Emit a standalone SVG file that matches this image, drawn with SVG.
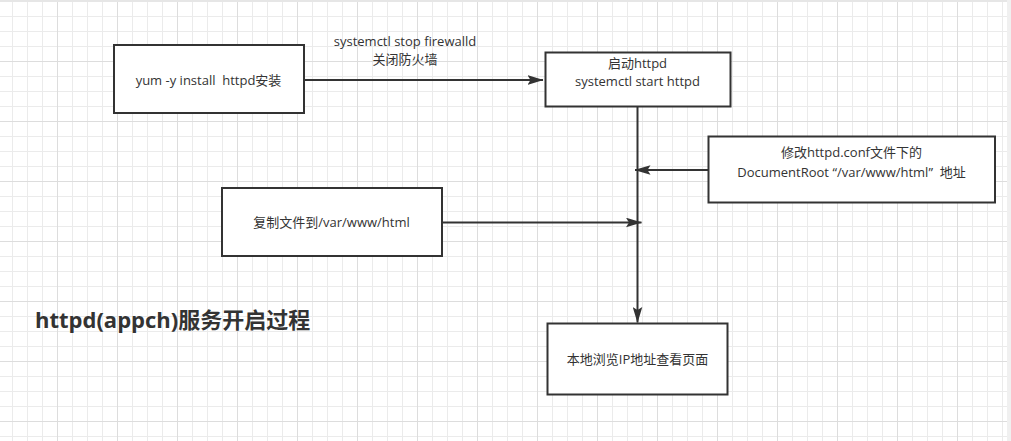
<svg xmlns="http://www.w3.org/2000/svg" width="1011" height="441" viewBox="0 0 1011 441">
<style>
.box{fill:#ffffff;stroke:#333333;stroke-width:2}
.edge{fill:none;stroke:#333333;stroke-width:2}
text{font-family:"Open Sans","Noto Sans CJK SC",sans-serif;font-size:13px;fill:#333333;text-anchor:middle;white-space:pre}
.title{font-family:"Open Sans","Noto Sans CJK SC",sans-serif;font-size:22px;font-weight:bold;text-anchor:start}
</style>
<defs>
<pattern id="grid" x="-3" y="1" width="60" height="60" patternUnits="userSpaceOnUse">
<path d="M15.5,0V60M30.5,0V60M45.5,0V60M0,15.5H60M0,30.5H60M0,45.5H60" stroke="#ebebeb" stroke-width="1" fill="none"/>
<path d="M0.5,0V60M0,0.5H60" stroke="#dddddd" stroke-width="1" fill="none"/>
</pattern>
<marker id="arr" viewBox="0 0 16 10" refX="15.5" refY="5" markerWidth="16" markerHeight="10" markerUnits="userSpaceOnUse" orient="auto">
<path d="M0,0.2L16,5L0,9.8L3,5Z" fill="#333333"/>
</marker>
</defs>
<rect width="1011" height="441" fill="#ffffff"/>
<rect width="1011" height="441" fill="url(#grid)"/>
<rect x="0" y="0" width="1011" height="2" fill="#e6e6e6"/>
<rect x="1007" y="0" width="4" height="441" fill="#f0f0f0"/>

<g id="connectors">
<path class="edge" d="M305,80H543" marker-end="url(#arr)"/>
<path class="edge" d="M637.5,107V322.5" marker-end="url(#arr)"/>
<path class="edge" d="M708,170H635" marker-end="url(#arr)"/>
<path class="edge" d="M442,222.5H641.5" marker-end="url(#arr)"/>
<text x="405" y="46">systemctl stop firewalld</text>
<text x="405" y="63.5">关闭防火墙</text>
</g>

<g id="node-install">
<rect class="box" x="114" y="45" width="190" height="68"/>
<text x="208.5" y="84.5">yum -y install  httpd安装</text>
</g>

<g id="node-start">
<rect class="box" x="545.5" y="52.5" width="185" height="54"/>
<text x="637.5" y="68">启动httpd</text>
<text x="637.5" y="85.5">systemctl start httpd</text>
</g>

<g id="node-conf">
<rect class="box" x="708.5" y="136.5" width="286.5" height="66"/>
<text x="851.5" y="157">修改httpd.conf文件下的</text>
<text x="851.5" y="176.5">DocumentRoot “/var/www/html”  地址</text>
</g>

<g id="node-copy">
<rect class="box" x="222" y="188" width="220" height="68"/>
<text x="331.5" y="227">复制文件到/var/www/html</text>
</g>

<g id="node-browse">
<rect class="box" x="547.5" y="323.5" width="180" height="71"/>
<text x="637.5" y="363.5">本地浏览IP地址查看页面</text>
</g>

<g id="title">
<text class="title" x="35" y="328">httpd(appch)服务开启过程</text>
</g>
</svg>
